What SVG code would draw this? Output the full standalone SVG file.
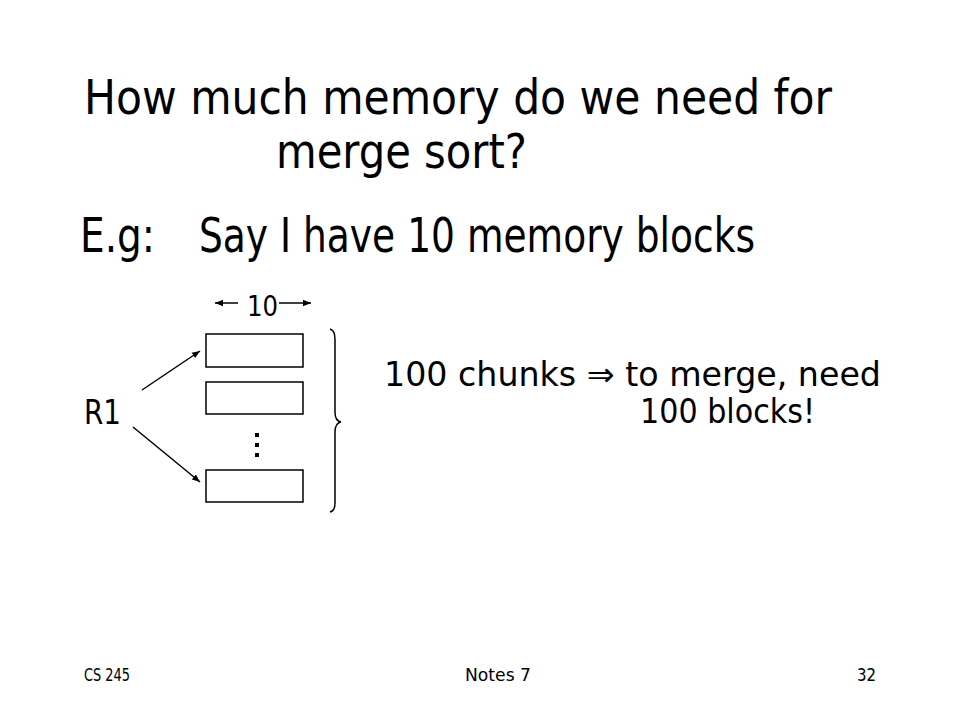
<svg xmlns="http://www.w3.org/2000/svg" width="960" height="720" viewBox="0 0 960 720">
<style>
text{font-family:"DejaVu Sans","Liberation Sans",sans-serif;fill:#000}
.t{font-size:48px}
.m{font-size:29px}
.n{font-size:33px}
.f{font-size:18px}
.ln{stroke:#000;stroke-width:1.5;fill:none}
.box{fill:#fff;stroke:#000;stroke-width:1.5}
</style>
<defs>
<marker id="ah" viewBox="0 0 10 10" refX="10" refY="5" markerWidth="8" markerHeight="8" markerUnits="userSpaceOnUse" orient="auto">
<path d="M0,1 L10,5 L0,9 z" fill="#000"/>
</marker>
</defs>
<rect width="960" height="720" fill="#fff"/>
<g id="title">
<text class="t" x="84" y="114" textLength="748" lengthAdjust="spacingAndGlyphs">How much memory do we need for</text>
<text class="t" x="276" y="168" textLength="251" lengthAdjust="spacingAndGlyphs">merge sort?</text>
<text class="t" x="80" y="252" textLength="75" lengthAdjust="spacingAndGlyphs">E.g:</text>
<text class="t" x="199" y="252" textLength="556" lengthAdjust="spacingAndGlyphs">Say I have 10 memory blocks</text>
</g>
<g id="width-label">
<text class="m" x="247" y="316" textLength="31" lengthAdjust="spacingAndGlyphs">10</text>
</g>
<g id="block1"><rect class="box" x="206" y="334" width="97" height="33"/></g>
<g id="block2"><rect class="box" x="206" y="382" width="97" height="32"/></g>
<g id="block3"><rect class="box" x="206" y="470" width="97" height="32"/></g>
<g id="dots">
<rect x="255" y="433" width="4" height="4"/>
<rect x="255" y="443" width="4" height="4"/>
<rect x="255" y="453" width="4" height="4"/>
</g>
<g id="r1"><text class="n" x="84" y="424" textLength="37" lengthAdjust="spacingAndGlyphs">R1</text></g>
<g id="brace"><path class="ln" d="M330,329 Q335,330 335,340 L335,412 Q335,421 341,422 Q335,423 335,432 L335,503 Q335,511 330,512"/></g>
<g id="note">
<text class="n" x="384" y="386" textLength="497" lengthAdjust="spacingAndGlyphs">100 chunks ⇒ to merge, need</text>
<text class="n" x="640" y="423" textLength="175" lengthAdjust="spacingAndGlyphs">100 blocks!</text>
</g>
<g id="connectors">
<line class="ln" x1="238" y1="303" x2="215" y2="303" marker-end="url(#ah)"/>
<line class="ln" x1="279" y1="303" x2="311" y2="303" marker-end="url(#ah)"/>
<line class="ln" x1="142" y1="390" x2="200" y2="351" marker-end="url(#ah)"/>
<line class="ln" x1="133" y1="427" x2="200" y2="482" marker-end="url(#ah)"/>
</g>
<g id="footer">
<text class="f" x="84" y="681" textLength="46" lengthAdjust="spacingAndGlyphs">CS 245</text>
<text class="f" x="465" y="681" textLength="66" lengthAdjust="spacingAndGlyphs">Notes 7</text>
<text class="f" x="857" y="681" textLength="19" lengthAdjust="spacingAndGlyphs">32</text>
</g>
</svg>
